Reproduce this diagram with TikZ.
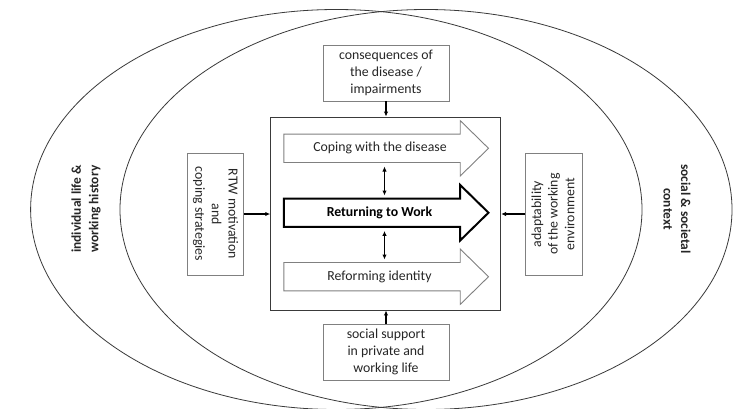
\documentclass[tikz,border=0pt]{standalone}
\usepackage{fontspec}
\setmainfont{Carlito}
\usetikzlibrary{shapes.geometric,arrows.meta,calc}

\definecolor{inkline}{HTML}{3A3A3A}
\definecolor{boxline}{HTML}{808080}
\definecolor{txt}{HTML}{262626}

\tikzset{
  body/.style={font=\fontsize{13.8}{16.7}\selectfont, text=txt},
  ring/.style={ellipse, draw=inkline, line width=0.8pt, inner sep=0pt},
  factor/.style={draw=boxline, line width=0.9pt, fill=white, inner sep=0pt, align=center, body},
  shaft/.style={minimum width=176pt, minimum height=28pt, inner sep=0pt},
  hollow/.style={draw=boxline, line width=0.9pt, fill=white, line join=miter},
  boldarrow/.style={draw=black, line width=2pt, fill=white, line join=miter},
  link/.style={draw=black, line width=1.3pt, -{Latex[length=5pt,width=4.5pt]}},
  duallink/.style={draw=black, line width=1.3pt, {Latex[length=5pt,width=4.5pt]}-{Latex[length=5pt,width=4.5pt]}},
  context/.style={font=\fontsize{13.4}{17.5}\selectfont\bfseries, text=txt, align=center, inner sep=0pt}
}

\begin{document}
\begin{tikzpicture}[x=1pt, y=-1pt]
  \useasboundingbox (0,0) rectangle (742,408);
  \clip (0,0) rectangle (742,408);
  \fill[white] (0,0) rectangle (742,408);

  % the two overlapping context rings
  \node[ring, minimum width=611.4pt, minimum height=400pt] (lifering) at (336.3,209.5) {};
  \node[ring, minimum width=612pt, minimum height=400pt] (socring) at (426,209.5) {};

  % ring labels
  \node[context, rotate=90] (history) at (86,209) {individual life \&\\working history};
  \node[context, rotate=-90] (society) at (677,209) {social \& societal\\context};

  % central frame
  \node[draw=inkline, line width=0.9pt, minimum width=230pt, minimum height=193pt, inner sep=0pt] (core) at (385.7,213.5) {};

  % process arrows (shafts as named nodes, heads drawn around them)
  \node[shaft] (cope) at (372,148.3) {};
  \node[shaft] (rtw) at (372,212.7) {};
  \node[shaft] (reform) at (372,276.7) {};

  \draw[hollow] (cope.north west) -- (cope.north east) -- ([yshift=13.5pt]cope.north east)
    -- ([xshift=28.3pt]cope.east) -- ([yshift=-13.5pt]cope.south east) -- (cope.south east)
    -- (cope.south west) -- cycle;
  \draw[hollow] (reform.north west) -- (reform.north east) -- ([yshift=13.5pt]reform.north east)
    -- ([xshift=28.3pt]reform.east) -- ([yshift=-13.5pt]reform.south east) -- (reform.south east)
    -- (reform.south west) -- cycle;
  \draw[boldarrow] (rtw.north west) -- (rtw.north east) -- ([yshift=13.5pt]rtw.north east)
    -- ([xshift=28.3pt]rtw.east) -- ([yshift=-13.5pt]rtw.south east) -- (rtw.south east)
    -- (rtw.south west) -- cycle;

  \node[body] (copetext) at (380,148.3) {Coping with the disease};
  \node[body, font=\fontsize{13.8}{16.7}\selectfont\bfseries, text=black] (rtwtext) at (379.5,212.7) {Returning to Work};
  \node[body] (reformtext) at (379.5,276.7) {Reforming identity};

  % links between the process arrows
  \coordinate (mid) at (384.5,0);
  \draw[duallink, shorten >=3pt, shorten <=4pt] (cope.south -| mid) -- (rtw.north -| mid);
  \draw[duallink, shorten >=3pt, shorten <=4pt] (rtw.south -| mid) -- (reform.north -| mid);

  % influencing factors
  \node[factor, minimum width=126pt, minimum height=56pt] (impair) at (386,73)
    {consequences of\\the disease /\\impairments};
  \node[factor, minimum width=126pt, minimum height=56pt] (support) at (386,352)
    {social support\\in private and\\working life};
  \node[factor, minimum width=56pt, minimum height=122pt] (motiv) at (215.3,214)
    {\rotatebox{-90}{\begin{tabular}{@{}c@{}}RTW motivation\\and\\coping strategies\end{tabular}}};
  \node[factor, minimum width=57pt, minimum height=122pt] (adapt) at (554.4,214)
    {\rotatebox{90}{\begin{tabular}{@{}c@{}}adaptability\\of the working\\environment\end{tabular}}};

  % factor links into the central frame
  \draw[link] (impair.south) -- (impair.south |- core.north);
  \draw[link] (support.north) -- (support.north |- core.south);
  \draw[link] (motiv.east) -- (motiv.east -| core.west);
  \draw[link] (adapt.west) -- (adapt.west -| core.east);
\end{tikzpicture}
\end{document}
